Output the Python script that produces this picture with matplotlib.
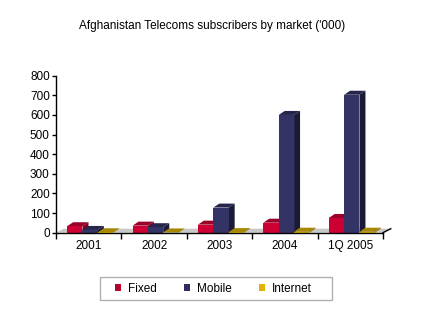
import matplotlib
matplotlib.use("Agg")
import matplotlib.pyplot as plt
from matplotlib.patches import Polygon, Patch, Rectangle
from matplotlib.lines import Line2D

plt.rcParams['font.family'] = ['Liberation Sans', 'DejaVu Sans']

categories = ["2001", "2002", "2003", "2004", "1Q 2005"]
series_names = ["Fixed", "Mobile", "Internet"]
fixed = [33, 36, 41, 51, 75]
mobile = [14, 28, 128, 600, 703]
internet = [2, 1, 3, 5, 5]
y_ticks = [0, 100, 200, 300, 400, 500, 600, 700, 800]

series = [fixed, mobile, internet]
front_colors = ["#cc0033", "#333366", "#d9ad00"]
top_colors = ["#99002a", "#26264d", "#a88600"]
side_colors = ["#7a0020", "#1a1a36", "#8a6e00"]
legend_colors = ["#b8002e", "#2e2e5c", "#e0b400"]

W, H = 425, 324
fig = plt.figure(figsize=(W / 100, H / 100), dpi=100)
fig.patch.set_facecolor("white")

x0, x1 = 56, 383
y0, y1 = 232.7, 75.7
ax = fig.add_axes([x0 / W, 1 - y0 / H, (x1 - x0) / W, (y0 - y1) / H])
ax.set_xlim(0, len(categories))
ax.set_ylim(0, 800)
ax.patch.set_alpha(0)

# depth of the 3D effect in data units (about 6 px right, 4 px up)
dx = 6 / ((x1 - x0) / len(categories))
dy = 4 * 800 / (y0 - y1)

# grey floor
floor = Polygon([(0, 0), (len(categories), 0), (len(categories) + 1.3 * dx, dy),
                 (1.3 * dx, dy)], closed=True, facecolor="#c8c8c8",
                edgecolor="none", zorder=1, clip_on=False)
ax.add_patch(floor)

bar_w = 0.235
offsets = [0.17, 0.405, 0.64]
for s, vals in enumerate(series):
    lefts = [i + offsets[s] for i in range(len(categories))]
    ax.bar(lefts, vals, width=bar_w, align="edge", color=front_colors[s],
           edgecolor="none", zorder=3 + s * 0.1)
    for l, v in zip(lefts, vals):
        top = Polygon([(l, v), (l + bar_w, v), (l + bar_w + dx, v + dy), (l + dx, v + dy)],
                      closed=True, facecolor=top_colors[s], edgecolor="none",
                      zorder=2.9 + s * 0.1, clip_on=False)
        side = Polygon([(l + bar_w, 0), (l + bar_w + dx, dy), (l + bar_w + dx, v + dy),
                        (l + bar_w, v)], closed=True, facecolor=side_colors[s],
                       edgecolor="none", zorder=2.9 + s * 0.1, clip_on=False)
        ax.add_patch(top)
        ax.add_patch(side)

for sp in ["top", "right"]:
    ax.spines[sp].set_visible(False)
ax.spines["left"].set_color("black")
ax.spines["bottom"].set_color("black")
ax.spines["left"].set_linewidth(1.0)
ax.spines["bottom"].set_linewidth(1.0)
ax.spines["bottom"].set_zorder(6)

ax.set_yticks(y_ticks)
ax.set_yticklabels([str(t) for t in y_ticks])
ax.tick_params(axis="y", length=3, width=1, pad=1.5, labelsize=8.5, colors="black")

# category boundaries get the ticks, labels sit in the middle
ax.set_xticks(range(len(categories) + 1))
ax.set_xticklabels([])
ax.set_xticks([i + 0.5 for i in range(len(categories))], minor=True)
ax.set_xticklabels(categories, minor=True)
ax.tick_params(axis="x", which="major", length=4, width=1, direction="out")
ax.tick_params(axis="x", which="minor", length=0, pad=5, labelsize=8.5)

# small diagonal at the right end of the floor edge
ax.add_line(Line2D([len(categories), len(categories) + 1.3 * dx], [0, dy],
                   color="black", lw=1, clip_on=False, zorder=6))

fig.text(212 / W, 1 - 26 / H, "Afghanistan Telecoms subscribers by market ('000)",
         ha="center", va="center", fontsize=8.5)

# legend box
fig.add_artist(Rectangle((100 / W, 1 - 300 / H), 232 / W, 23 / H,
                         transform=fig.transFigure, facecolor="white",
                         edgecolor="#b0b0b0", linewidth=1.0))
handles = [Patch(facecolor=c, edgecolor="none") for c in legend_colors]
leg = fig.legend(handles, series_names, loc="center left",
                 bbox_to_anchor=(115 / W, 1 - 288.5 / H), ncol=3, fontsize=8.5,
                 frameon=False, handlelength=0.5, handleheight=0.5,
                 handletextpad=0.6, columnspacing=2.3, borderpad=0,
                 borderaxespad=0)

fig.savefig("out.png", dpi=100)
